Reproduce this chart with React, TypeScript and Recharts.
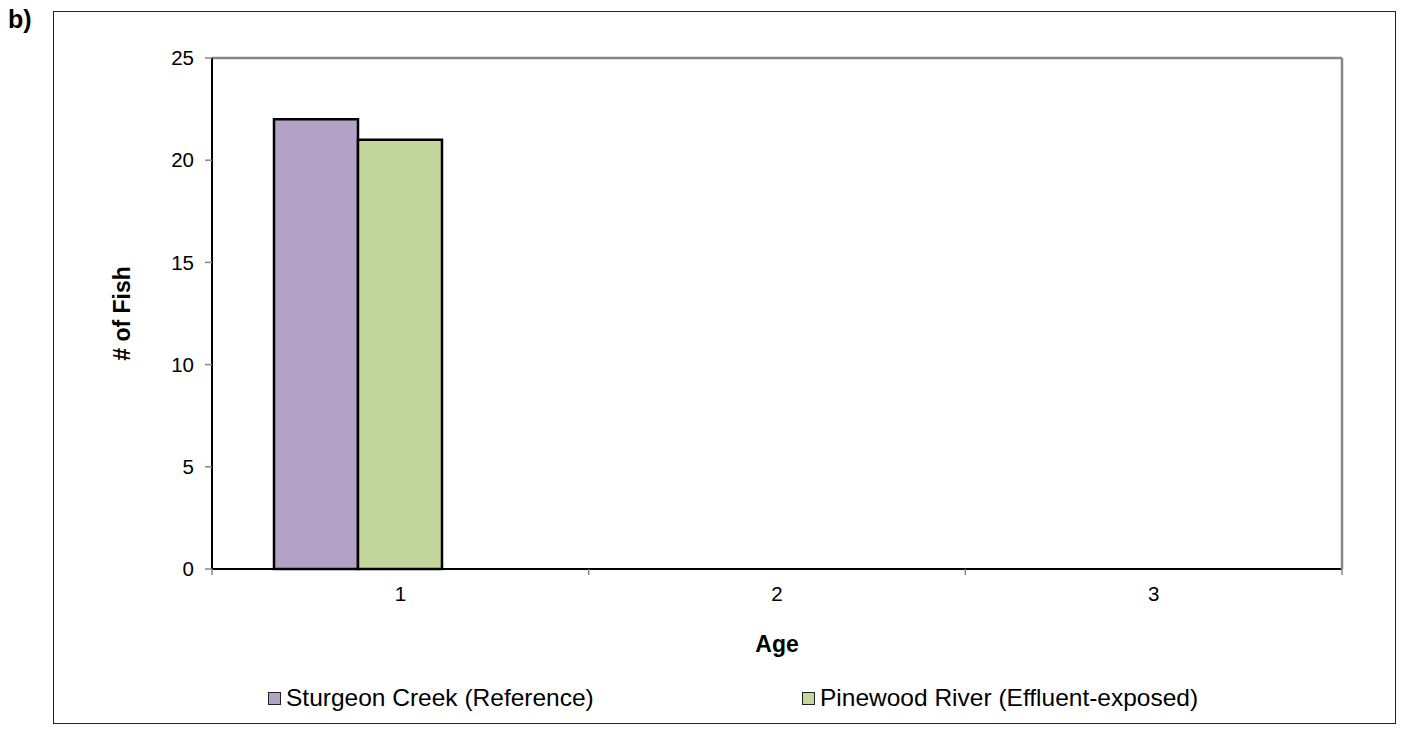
import React from 'react';
import { BarChart, Bar, XAxis, YAxis, ReferenceLine, Legend, Label } from 'recharts';

const ages = ['1', '2', '3'];
const sturgeonCreek = [22, 0, 0];
const pinewoodRiver = [21, 0, 0];
const emptySeries = [0, 0, 0];
const yTicks = [0, 5, 10, 15, 20, 25];

const data = ages.map((age, i) => ({
  age,
  sturgeon: sturgeonCreek[i],
  pinewood: pinewoodRiver[i],
  empty: emptySeries[i],
}));

const FONT = '"Liberation Sans", Arial, Helvetica, sans-serif';
const PURPLE = '#B3A2C7';
const GREEN = '#C3D69B';
const BORDER_GREY = '#868686';
const TICK_MARGIN = 17;

const legendItems = [
  { label: 'Sturgeon Creek (Reference)', color: PURPLE, left: 268 },
  { label: 'Pinewood River (Effluent-exposed)', color: GREEN, left: 802 },
];

const LegendContent = () => (
  <div style={{ position: 'relative', width: 1402, height: 30, fontFamily: FONT }}>
    {legendItems.map((it) => (
      <div
        key={it.label}
        style={{ position: 'absolute', left: it.left, top: 0, display: 'flex', alignItems: 'center', height: 30 }}
      >
        <span
          style={{
            display: 'inline-block',
            width: 11,
            height: 11,
            background: it.color,
            border: '1.5px solid #222',
            marginRight: 5,
          }}
        />
        <span style={{ fontSize: 24.5, color: '#000', whiteSpace: 'nowrap' }}>{it.label}</span>
      </div>
    ))}
  </div>
);

const CategoryTick = (props: any) => {
  const { x, y, payload, width, visibleTicksCount, index } = props;
  const half = payload && payload.offset ? payload.offset : width / (visibleTicksCount || 3) / 2;
  const axisY = y - TICK_MARGIN;
  return (
    <g>
      {index === 0 && (
        <line x1={x - half} x2={x - half} y1={axisY} y2={axisY + 6} stroke={BORDER_GREY} strokeWidth={1.5} />
      )}
      <line x1={x + half} x2={x + half} y1={axisY} y2={axisY + 6} stroke={BORDER_GREY} strokeWidth={1.5} />
      <text x={x} y={y} dy="0.71em" textAnchor="middle" fill="#000" fontSize={20.5} fontFamily={FONT}>
        {payload.value}
      </text>
    </g>
  );
};

export default function App() {
  return (
    <div style={{ position: 'absolute', left: 0, top: 0, width: 1402, height: 736, background: '#fff', fontFamily: FONT }}>
      <div
        style={{
          position: 'absolute',
          left: 53,
          top: 11,
          width: 1343,
          height: 713,
          border: '1px solid #222',
          boxSizing: 'border-box',
        }}
      />
      <div style={{ position: 'absolute', left: 8, top: 5, fontSize: 25, fontWeight: 'bold', color: '#000' }}>b)</div>
      <div style={{ position: 'absolute', left: 0, top: 0 }}>
        <BarChart
          width={1402}
          height={736}
          data={data}
          margin={{ top: 58, right: 59, left: 32, bottom: 17 }}
          barCategoryGap={62}
          barGap={0}
          style={{ fontFamily: FONT }}
        >
          <XAxis
            dataKey="age"
            height={150}
            tickSize={0}
            tickMargin={TICK_MARGIN}
            axisLine={{ stroke: '#000', strokeWidth: 2 }}
            tickLine={false}
            tick={<CategoryTick />}
            interval={0}
          >
            <Label value="Age" position="center" style={{ fontWeight: 'bold', fontSize: 23, fill: '#000', fontFamily: FONT }} />
          </XAxis>
          <YAxis
            yAxisId="left"
            width={180}
            domain={[0, 25]}
            ticks={yTicks}
            interval={0}
            tickSize={7}
            tickMargin={11}
            tickLine={{ stroke: BORDER_GREY, strokeWidth: 1.5 }}
            axisLine={{ stroke: '#000', strokeWidth: 2 }}
            tick={{ fill: '#000', fontSize: 20.5, fontFamily: FONT }}
          >
            <Label
              value="# of Fish"
              position="center"
              angle={-90}
              style={{ fontWeight: 'bold', fontSize: 23, fill: '#000', fontFamily: FONT }}
            />
          </YAxis>
          <YAxis
            yAxisId="right"
            orientation="right"
            width={1}
            domain={[0, 25]}
            tick={false}
            tickLine={false}
            axisLine={{ stroke: BORDER_GREY, strokeWidth: 2.5 }}
          />
          <ReferenceLine y={25} yAxisId="left" stroke={BORDER_GREY} strokeWidth={2.5} />
          <Bar yAxisId="left" dataKey="sturgeon" fill={PURPLE} stroke="#000" strokeWidth={2.5} isAnimationActive={false} />
          <Bar yAxisId="left" dataKey="pinewood" fill={GREEN} stroke="#000" strokeWidth={2.5} isAnimationActive={false} />
          <Bar yAxisId="left" dataKey="empty" fill="#4F81BD" stroke="#000" strokeWidth={2.5} legendType="none" isAnimationActive={false} />
          <Legend
            layout="horizontal"
            verticalAlign="middle"
            align="center"
            wrapperStyle={{ top: 683, left: 0, width: 1402 }}
            content={<LegendContent />}
          />
        </BarChart>
      </div>
    </div>
  );
}
